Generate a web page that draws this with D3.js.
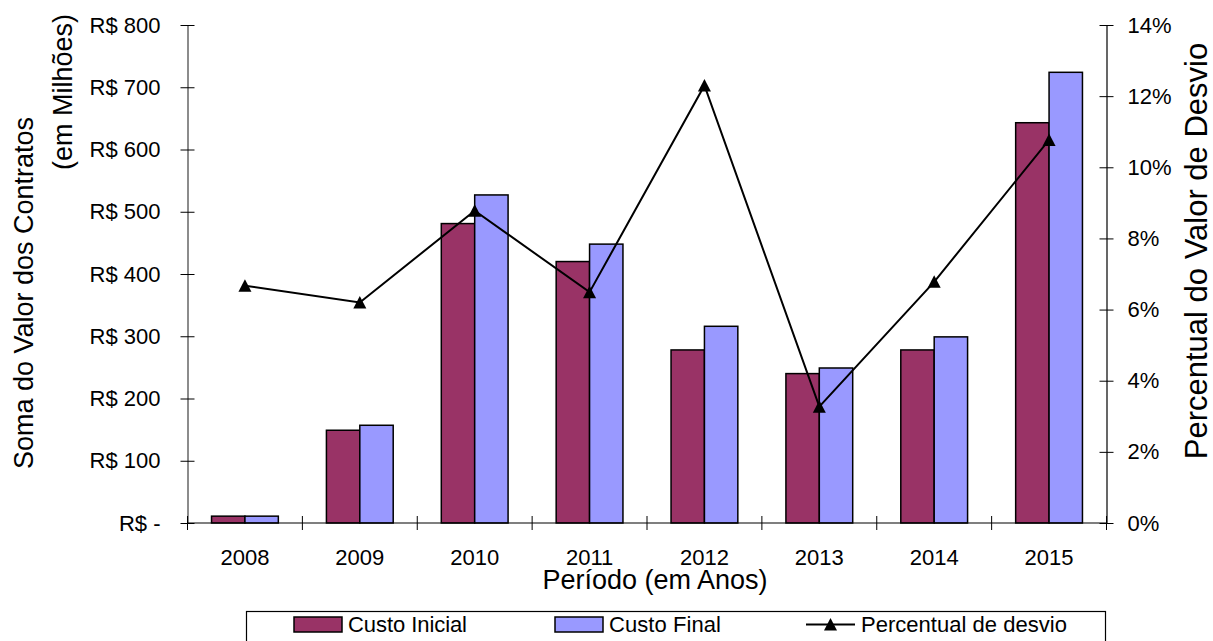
<!DOCTYPE html>
<html>
<head>
<meta charset="utf-8">
<script src="https://cdn.jsdelivr.net/npm/d3@7"></script>
<style>
  body { margin: 0; background: #fff; }
  text { font-family: "Liberation Sans", Arial, sans-serif; fill: #000; }
</style>
</head>
<body>
<script>
const years = ["2008", "2009", "2010", "2011", "2012", "2013", "2014", "2015"];
const custoInicial = [11, 149, 481, 420, 278, 240, 278, 643];
const custoFinal = [11, 157, 527, 448, 316, 249, 299, 724];
const percDesvio = [6.67, 6.20, 8.78, 6.49, 12.30, 3.27, 6.78, 10.77];
const leftTicks = [0, 100, 200, 300, 400, 500, 600, 700, 800];
const rightTicks = [0, 2, 4, 6, 8, 10, 12, 14];
const seriesNames = ["Custo Inicial", "Custo Final"];
const seriesColors = ["#993366", "#9999FF"];

const width = 1213, height = 641;
const plotLeft = 187.5, plotRight = 1106.5, plotTop = 25, plotBottom = 523;

const svg = d3.select("body").append("svg")
  .attr("width", width)
  .attr("height", height);

let x0 = d3.scaleBand().domain(years).range([plotLeft, plotRight]).paddingInner(0).paddingOuter(0);
let x1 = d3.scaleBand().domain(seriesNames).range([0, x0.bandwidth()])
  .paddingInner(0).paddingOuter(0.72);
let yL = d3.scaleLinear().domain([0, 800]).range([plotBottom, plotTop]);
let yR = d3.scaleLinear().domain([0, 14]).range([plotBottom, plotTop]);

// bars
const groups = svg.append("g")
  .selectAll("g")
  .data(years)
  .enter().append("g")
  .attr("transform", d => `translate(${x0(d)},0)`);

[custoInicial, custoFinal].forEach((vals, s) => {
  groups.append("rect")
    .attr("x", (d, i) => x1(seriesNames[s]))
    .attr("width", x1.bandwidth())
    .attr("y", (d, i) => yL(vals[i]))
    .attr("height", (d, i) => yL(0) - yL(vals[i]))
    .attr("fill", seriesColors[s])
    .attr("stroke", "#000")
    .attr("stroke-width", 1.5);
});

// left axis
let axL = d3.axisLeft(yL).tickValues(leftTicks)
  .tickFormat(d => d === 0 ? "R$ -" : "R$ " + d)
  .tickSizeInner(7).tickSizeOuter(0).tickPadding(20);
let gL = svg.append("g").attr("transform", `translate(${plotLeft},0)`).call(axL);
gL.select(".domain").attr("stroke", "#666").attr("stroke-width", 1.5);
gL.selectAll(".tick line").attr("x2", 7).attr("x1", -7);
gL.selectAll(".tick text").attr("font-size", 22).attr("font-family", "Liberation Sans");

// right axis
let axR = d3.axisRight(yR).tickValues(rightTicks)
  .tickFormat(d => d + "%")
  .tickSizeInner(7).tickSizeOuter(0).tickPadding(14);
let gR = svg.append("g").attr("transform", `translate(${plotRight},0)`).call(axR);
gR.select(".domain").attr("stroke", "#000").attr("stroke-width", 1.2);
gR.selectAll(".tick line").attr("x1", -7).attr("x2", 7);
gR.selectAll(".tick text").attr("font-size", 22).attr("font-family", "Liberation Sans");

// bottom axis
let gB = svg.append("g").attr("transform", `translate(0,${plotBottom})`);
gB.append("line").attr("x1", plotLeft).attr("x2", plotRight).attr("stroke", "#000").attr("stroke-width", 1.2);
gB.selectAll("line.tk")
  .data(years.concat(["end"]))
  .enter().append("line").classed("tk", true)
  .attr("x1", (d, i) => plotLeft + i * x0.step())
  .attr("x2", (d, i) => plotLeft + i * x0.step())
  .attr("y1", -7).attr("y2", 7)
  .attr("stroke", "#000");
gB.selectAll("text")
  .data(years)
  .enter().append("text")
  .attr("x", d => x0(d) + x0.bandwidth() / 2)
  .attr("y", 42)
  .attr("text-anchor", "middle")
  .attr("font-size", 22)
  .text(d => d);

// percent line
let lineGen = d3.line()
  .x((d, i) => x0(years[i]) + x0.bandwidth() / 2)
  .y(d => yR(d));
svg.append("path")
  .datum(percDesvio)
  .attr("d", lineGen)
  .attr("fill", "none")
  .attr("stroke", "#000")
  .attr("stroke-width", 2);
svg.append("g").selectAll("path")
  .data(percDesvio)
  .enter().append("path")
  .attr("d", "M0,-6.5L6.5,6L-6.5,6Z")
  .attr("transform", (d, i) => `translate(${x0(years[i]) + x0.bandwidth() / 2},${yR(d)})`)
  .attr("fill", "#000");

// axis titles
svg.append("text")
  .attr("transform", "translate(33,293) rotate(-90)")
  .attr("text-anchor", "middle")
  .attr("font-size", 27)
  .text("Soma do Valor dos Contratos");
svg.append("text")
  .attr("transform", "translate(72,92) rotate(-90)")
  .attr("text-anchor", "middle")
  .attr("font-size", 27)
  .text("(em Milhões)");
svg.append("text")
  .attr("transform", "translate(1207,251) rotate(-90)")
  .attr("text-anchor", "middle")
  .attr("font-size", 31)
  .text("Percentual do Valor de Desvio");
svg.append("text")
  .attr("x", 655)
  .attr("y", 589)
  .attr("text-anchor", "middle")
  .attr("font-size", 27)
  .text("Período (em Anos)");

// legend
let leg = svg.append("g");
leg.append("rect")
  .attr("x", 246.5).attr("y", 611.5)
  .attr("width", 859).attr("height", 50)
  .attr("fill", "#fff").attr("stroke", "#000").attr("stroke-width", 1.2);
const legX = [294, 555];
seriesNames.forEach((name, s) => {
  leg.append("rect")
    .attr("x", legX[s]).attr("y", 617)
    .attr("width", 48).attr("height", 15)
    .attr("fill", seriesColors[s]).attr("stroke", "#000").attr("stroke-width", 1.5);
  leg.append("text")
    .attr("x", legX[s] + 54).attr("y", 632)
    .attr("font-size", 22)
    .attr("textLength", s === 0 ? 119 : 112)
    .text(name);
});
leg.append("line")
  .attr("x1", 806).attr("x2", 855).attr("y1", 624.5).attr("y2", 624.5)
  .attr("stroke", "#000").attr("stroke-width", 2);
leg.append("path")
  .attr("d", "M0,-6.5L6.5,6L-6.5,6Z")
  .attr("transform", "translate(830.5,624.5)")
  .attr("fill", "#000");
leg.append("text")
  .attr("x", 861).attr("y", 632)
  .attr("font-size", 22)
  .attr("textLength", 206)
  .text("Percentual de desvio");
</script>
</body>
</html>
